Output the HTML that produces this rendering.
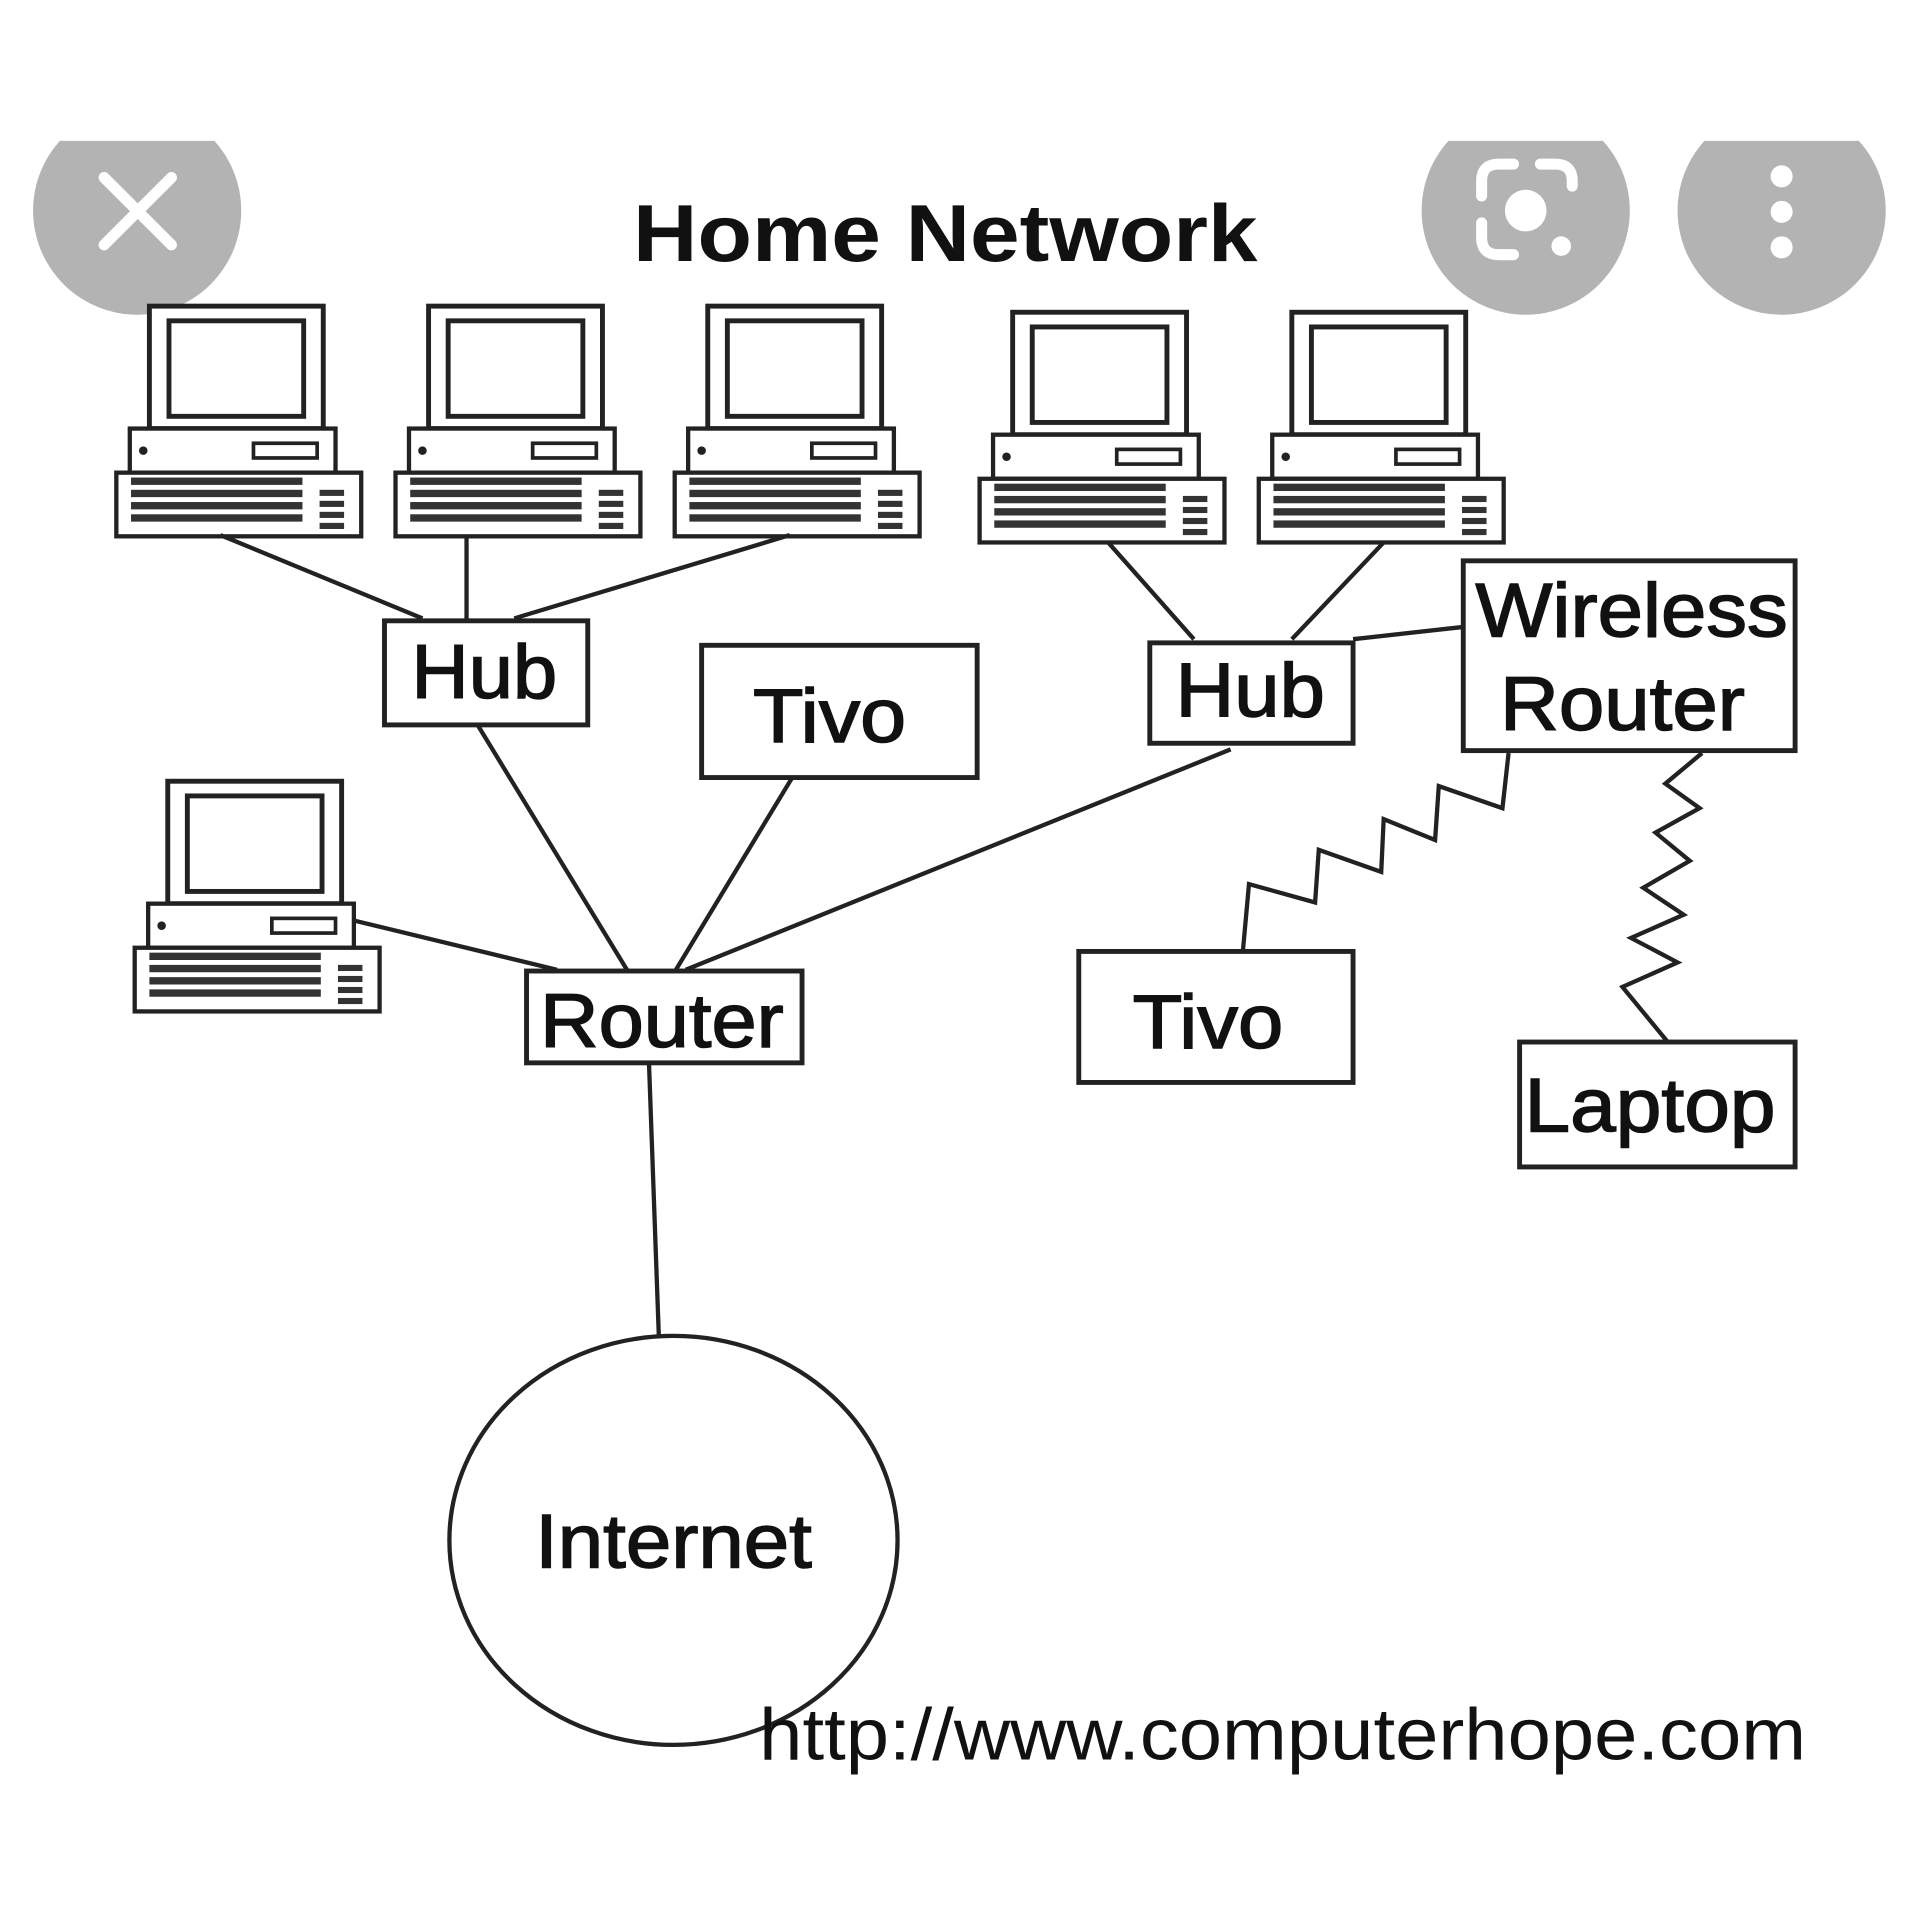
<!DOCTYPE html>
<html><head><meta charset="utf-8"><style>html,body{margin:0;padding:0;background:#fff}svg{display:block}</style></head>
<body>
<svg width="1920" height="1920" viewBox="0 0 1568 1568" xmlns="http://www.w3.org/2000/svg" font-family="Liberation Sans, sans-serif">
<defs>
<g id="pc" stroke="#222" fill="#fff">
<rect x="27" y="0" width="142" height="100" stroke-width="4"/>
<rect x="43" y="12" width="110" height="78" stroke-width="4"/>
<rect x="11" y="100" width="168" height="36" stroke-width="3.5"/>
<circle cx="22" cy="118" r="3" fill="#222"/>
<rect x="112" y="112" width="52" height="12" stroke-width="3"/>
<rect x="0" y="136" width="200" height="52" stroke-width="3.5"/>
<g stroke="none" fill="#333">
<rect x="12" y="140" width="140" height="6"/><rect x="12" y="150" width="140" height="6"/><rect x="12" y="160" width="140" height="6"/><rect x="12" y="170" width="140" height="6"/>
<rect x="166" y="150" width="20" height="5"/><rect x="166" y="159" width="20" height="5"/><rect x="166" y="168" width="20" height="5"/><rect x="166" y="177" width="20" height="5"/>
</g>
</g>
</defs>
<rect width="1568" height="1568" fill="#fff"/>
<clipPath id="cl"><rect x="0" y="115" width="1568" height="400"/></clipPath>
<g clip-path="url(#cl)" fill="#b3b3b3">
<circle cx="112" cy="172" r="85"/><circle cx="1246" cy="172" r="85"/><circle cx="1455" cy="172" r="85"/>
</g>
<g stroke="#fff" stroke-width="9" stroke-linecap="round" fill="none">
<line x1="85" y1="145" x2="140" y2="200"/><line x1="140" y1="145" x2="85" y2="200"/>
<path d="M1210 160 v-12 q0-14 14-14 h12 M1258 134 h12 q14 0 14 14 v4 M1210 182 v12 q0 14 14 14 h12"/>
</g>
<circle cx="1246" cy="172" r="17" fill="#fff"/><circle cx="1275" cy="201" r="8" fill="#fff"/>
<circle cx="1455" cy="144" r="9" fill="#fff"/><circle cx="1455" cy="173" r="9" fill="#fff"/><circle cx="1455" cy="202" r="9" fill="#fff"/>
<text x="517" y="213" font-size="66" font-weight="bold" fill="#111" textLength="510" lengthAdjust="spacingAndGlyphs">Home Network</text>
<use href="#pc" x="95" y="250"/><use href="#pc" x="323" y="250"/><use href="#pc" x="551" y="250"/>
<use href="#pc" x="800" y="255"/><use href="#pc" x="1028" y="255"/><use href="#pc" x="110" y="638"/>
<g stroke="#222" stroke-width="3.5" fill="none">
<line x1="180" y1="437" x2="345" y2="505"/><line x1="381" y1="437" x2="381" y2="507"/><line x1="645" y1="437" x2="420" y2="505"/>
<line x1="905" y1="443" x2="975" y2="522"/><line x1="1130" y1="443" x2="1055" y2="522"/>
<line x1="1105" y1="522" x2="1195" y2="512"/>
<line x1="390" y1="592" x2="512" y2="792"/><line x1="647" y1="635" x2="552" y2="792"/><line x1="1005" y1="612" x2="560" y2="792"/>
<line x1="290" y1="752" x2="455" y2="792"/><line x1="530" y1="868" x2="538" y2="1090"/>
<polyline points="1232,615 1227,660 1175,642 1172,686 1130,669 1128,712 1077,694 1074,737 1020,722 1015,777"/>
<polyline points="1390,615 1360,640 1388,660 1352,680 1380,703 1342,725 1375,747 1332,766 1370,786 1325,806 1362,851"/>
<rect x="314" y="507" width="166" height="85" stroke-width="4"/>
<rect x="573" y="527" width="225" height="108" stroke-width="4"/>
<rect x="939" y="525" width="166" height="82" stroke-width="4"/>
<rect x="1195" y="458" width="271" height="155" stroke-width="4"/>
<rect x="430" y="793" width="225" height="75" stroke-width="4"/>
<rect x="881" y="777" width="224" height="107" stroke-width="4"/>
<rect x="1241" y="851" width="225" height="102" stroke-width="4"/>
<ellipse cx="550" cy="1258" rx="183" ry="167" stroke-width="3.5"/>
</g>
<g font-size="62" fill="#111" stroke="#111" stroke-width="1.2" lengthAdjust="spacingAndGlyphs">
<text x="336" y="570" textLength="119" lengthAdjust="spacingAndGlyphs">Hub</text>
<text x="615" y="606" textLength="125" lengthAdjust="spacingAndGlyphs">Tivo</text>
<text x="960" y="585" textLength="122" lengthAdjust="spacingAndGlyphs">Hub</text>
<text x="1205" y="520" textLength="255" lengthAdjust="spacingAndGlyphs">Wireless</text>
<text x="1225" y="596" textLength="200" lengthAdjust="spacingAndGlyphs">Router</text>
<text x="441" y="855" textLength="199" lengthAdjust="spacingAndGlyphs">Router</text>
<text x="925" y="856" textLength="123" lengthAdjust="spacingAndGlyphs">Tivo</text>
<text x="1245" y="924" textLength="205" lengthAdjust="spacingAndGlyphs">Laptop</text>
<text x="437" y="1280" textLength="226" lengthAdjust="spacingAndGlyphs">Internet</text>
</g>
<text x="620" y="1437" font-size="60" fill="#111" textLength="855" lengthAdjust="spacingAndGlyphs">http://www.computerhope.com</text>
</svg>
</body></html>
